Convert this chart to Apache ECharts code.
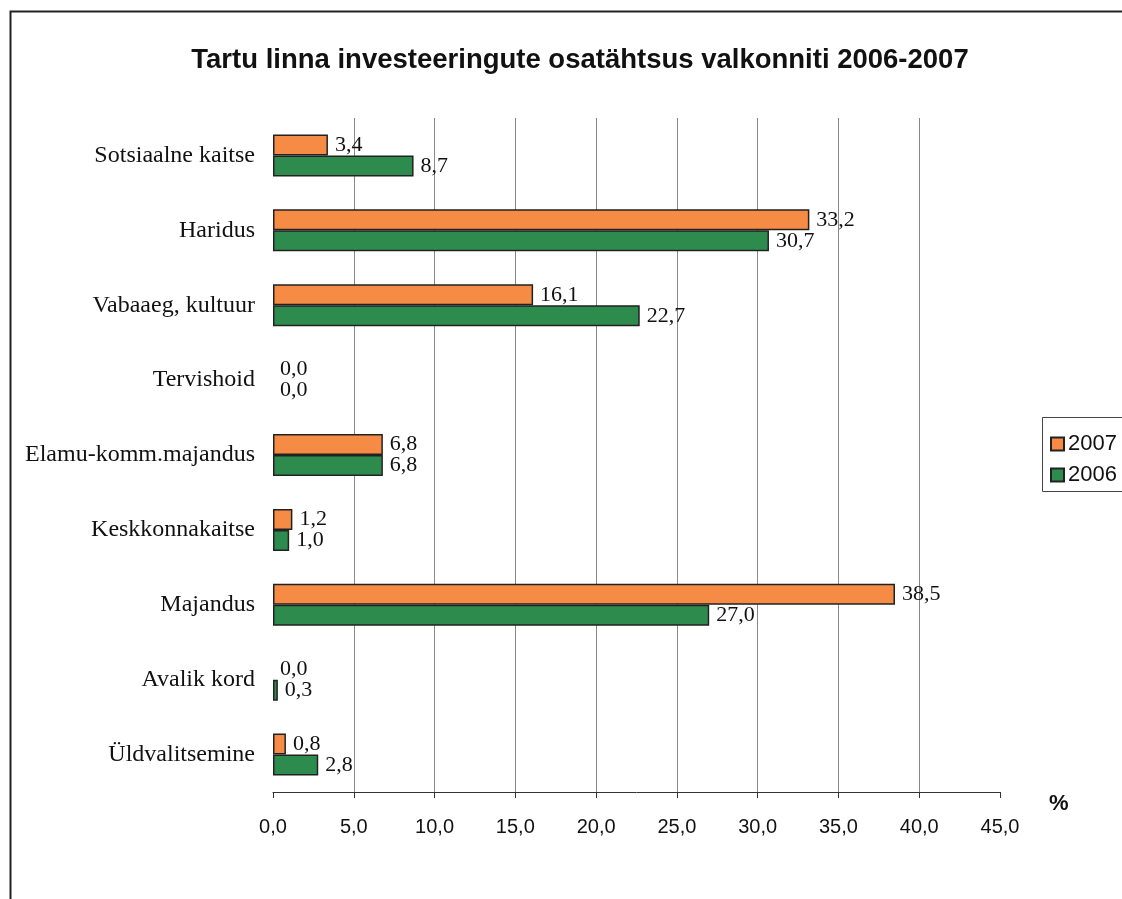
<!DOCTYPE html>
<html>
<head>
<meta charset="UTF-8">
<title>Tartu linna investeeringud</title>
<script src="https://cdn.jsdelivr.net/npm/echarts@6/dist/echarts.min.js"></script>
<style>
	html, body { margin: 0; padding: 0; background: #fff; }
	#chart { width: 1122px; height: 899px; }
</style>
</head>
<body>
	<div id="chart"></div>
	<script type="text/javascript">
		var categories = [ 'Sotsiaalne kaitse', 'Haridus', 'Vabaaeg, kultuur',
				'Tervishoid', 'Elamu-komm.majandus', 'Keskkonnakaitse',
				'Majandus', 'Avalik kord', 'Üldvalitsemine' ];
		var values2007 = [ 3.4, 33.2, 16.1, 0.0, 6.8, 1.2, 38.5, 0.0, 0.8 ];
		var values2006 = [ 8.7, 30.7, 22.7, 0.0, 6.8, 1.0, 27.0, 0.3, 2.8 ];

		function fmt(v) {
			return v.toFixed(1).replace('.', ',');
		}

		// zero bars get no border, so no stray line at 0
		function barData(values) {
			return values.map(function(v) {
				return v === 0 ? { value : v, itemStyle : { borderWidth : 0 } } : v;
			});
		}

		var chart = echarts.init(document.getElementById('chart'));
		var barLabel = {
			show : true,
			position : 'right',
			distance : 7,
			fontFamily : 'Liberation Serif',
			fontSize : 22,
			color : '#111',
			formatter : function(p) {
				return fmt(p.value);
			}
		};
		chart.setOption({
			animation : false,
			backgroundColor : '#fff',
			title : {
				text : 'Tartu linna investeeringute osatähtsus valkonniti 2006-2007',
				left : 575,
				textAlign : 'center',
				top : 41,
				textStyle : {
					fontFamily : 'Liberation Sans',
					fontSize : 27.5,
					fontWeight : 'bold',
					color : '#111'
				}
			},
			graphic : [ {
				type : 'rect',
				shape : { x : 10.5, y : 11.5, width : 1200, height : 1000 },
				style : { fill : null, stroke : '#222', lineWidth : 2 }
			}, {
				type : 'rect',
				shape : { x : 1042.5, y : 417.5, width : 200, height : 74 },
				style : { fill : '#fff', stroke : '#444', lineWidth : 1 },
				z : 1
			}, {
				type : 'text',
				left : 1049,
				top : 793,
				style : {
					text : '%',
					font : 'bold 22px "Liberation Sans"',
					fill : '#111'
				}
			} ],
			legend : {
				orient : 'vertical',
				left : 1045,
				top : 428,
				itemGap : 9,
				itemWidth : 13,
				itemHeight : 13,
				icon : 'rect',
				z : 5,
				textStyle : {
					fontFamily : 'Liberation Sans',
					fontSize : 22,
					color : '#111',
					padding : [ 0, 0, 0, -1 ]
				},
				data : [ '2007', '2006' ]
			},
			grid : {
				left : 273,
				right : 122,
				top : 118,
				bottom : 107
			},
			xAxis : {
				type : 'value',
				min : 0,
				max : 45,
				interval : 5,
				axisLine : { show : true, lineStyle : { color : '#333', width : 1 } },
				axisTick : { show : true, length : 6, lineStyle : { color : '#333' } },
				splitLine : {
					show : true,
					showMinLine : false,
					showMaxLine : false,
					lineStyle : { color : '#888', width : 1 }
				},
				axisLabel : {
					margin : 25,
					fontFamily : 'Liberation Sans',
					fontSize : 20,
					color : '#111',
					formatter : function(v) {
						return fmt(v);
					}
				}
			},
			yAxis : {
				type : 'category',
				inverse : true,
				data : categories,
				axisLine : { show : false },
				axisTick : { show : false },
				axisLabel : {
					margin : 18,
					fontFamily : 'Liberation Serif',
					fontSize : 24,
					color : '#111'
				}
			},
			series : [ {
				name : '2007',
				type : 'bar',
				data : barData(values2007),
				barWidth : 21,
				barGap : '0%',
				itemStyle : { color : '#F68B45', borderColor : '#222', borderWidth : 1.5 },
				label : barLabel
			}, {
				name : '2006',
				type : 'bar',
				data : barData(values2006),
				barWidth : 21,
				barGap : '0%',
				itemStyle : { color : '#2E8B4E', borderColor : '#222', borderWidth : 1.5 },
				label : barLabel
			} ]
		});
	</script>
</body>
</html>
